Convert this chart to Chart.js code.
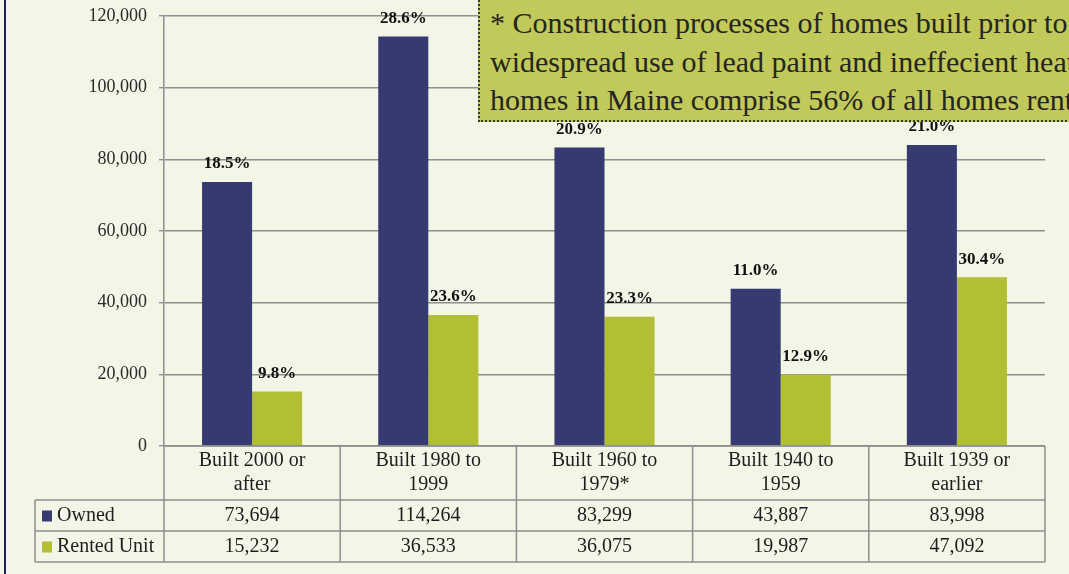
<!DOCTYPE html>
<html>
<head>
<meta charset="utf-8">
<script src="https://cdn.jsdelivr.net/npm/chart.js@4.4.0/dist/chart.umd.min.js"></script>
<style>
  html, body { margin: 0; padding: 0; }
  body { width: 1069px; height: 574px; overflow: hidden; background: #f3f5e7; position: relative; }
  #frame { position: absolute; left: 4px; top: 0; width: 2px; height: 574px; background: #1d2456; }
  canvas { position: absolute; left: 0; top: 0; }
  #note {
    position: absolute; left: 478px; top: -12px; width: 700px; height: 134px;
    box-sizing: border-box; border: 2px dotted #3a3a2a; background: #c1c95a;
  }
  #note-text {
    position: absolute; left: 490px; top: 4px;
    font-family: "Liberation Serif", "DejaVu Serif", serif; font-size: 30px; line-height: 38.5px;
    color: #262620; white-space: nowrap;
  }
</style>
</head>
<body>
<div id="frame"></div>
<canvas id="chart" width="1069" height="574"></canvas>
<div id="note"></div>
<div id="note-text">* Construction processes of homes built prior to<br>widespread use of lead paint and ineffecient heating<br>homes in Maine comprise 56% of all homes rented</div>
<script>
// --- datos ---
const categories = [
  ['Built 2000 or', 'after'],
  ['Built 1980 to', '1999'],
  ['Built 1960 to', '1979*'],
  ['Built 1940 to', '1959'],
  ['Built 1939 or', 'earlier']
];
const seriesNames = ['Owned', 'Rented Unit'];
const owned = [73694, 114264, 83299, 43887, 83998];
const rented = [15232, 36533, 36075, 19987, 47092];
const ownedPct = ['18.5%', '28.6%', '20.9%', '11.0%', '21.0%'];
const rentedPct = ['9.8%', '23.6%', '23.3%', '12.9%', '30.4%'];
const yMax = 120000;
const yStep = 20000;

const NAVY = '#353b71';
const OLIVE = '#b2be34';
const GRID = '#8e8e8e';
const SERIF = '"Liberation Serif", "DejaVu Serif", serif';

// etiquetas de porcentaje encima de cada barra
const pctLabels = {
  id: 'pctLabels',
  afterDatasetsDraw(chart) {
    const ctx = chart.ctx;
    const pcts = [ownedPct, rentedPct];
    ctx.save();
    ctx.font = 'bold 17px ' + SERIF;
    ctx.fillStyle = '#111';
    ctx.textAlign = 'center';
    ctx.textBaseline = 'middle';
    chart.data.datasets.forEach((ds, di) => {
      chart.getDatasetMeta(di).data.forEach((bar, i) => {
        ctx.fillText(pcts[di][i], bar.x, bar.y - 18);
      });
    });
    ctx.restore();
  }
};

// tabla de datos bajo el eje x
const dataTable = {
  id: 'dataTable',
  afterDraw(chart) {
    const ctx = chart.ctx;
    const area = chart.chartArea;
    const x = chart.scales.x;
    const top = area.bottom;
    const rowH = [54, 31, 31];
    const y1 = top + rowH[0];
    const y2 = y1 + rowH[1];
    const y3 = y2 + rowH[2];
    const legendLeft = 35;
    const step = (area.right - area.left) / categories.length;

    ctx.save();
    ctx.strokeStyle = GRID;
    ctx.lineWidth = 1.5;
    ctx.beginPath();
    // horizontales
    [y1, y2, y3].forEach(y => {
      ctx.moveTo(legendLeft, y);
      ctx.lineTo(area.right, y);
    });
    // verticales
    ctx.moveTo(legendLeft, y1);
    ctx.lineTo(legendLeft, y3);
    for (let i = 0; i <= categories.length; i++) {
      const vx = area.left + step * i;
      ctx.moveTo(vx, top);
      ctx.lineTo(vx, y3);
    }
    ctx.moveTo(area.left, top);
    ctx.lineTo(area.right, top);
    ctx.stroke();

    ctx.fillStyle = '#1e1e1e';
    ctx.font = '20px ' + SERIF;
    ctx.textAlign = 'center';
    ctx.textBaseline = 'middle';
    categories.forEach((lines, i) => {
      const cx = x.getPixelForValue(i);
      ctx.fillText(lines[0], cx, top + 15);
      ctx.fillText(lines[1], cx, top + 39);
      ctx.fillText(owned[i].toLocaleString('en-US'), cx, y1 + rowH[1] / 2);
      ctx.fillText(rented[i].toLocaleString('en-US'), cx, y2 + rowH[2] / 2);
    });

    // leyenda
    const colors = [NAVY, OLIVE];
    ctx.textAlign = 'left';
    seriesNames.forEach((name, i) => {
      const cy = y1 + rowH[1] * i + rowH[1] / 2;
      ctx.fillStyle = colors[i];
      ctx.fillRect(42, cy - 5, 10, 11);
      ctx.fillStyle = '#1e1e1e';
      ctx.fillText(name, 57, cy);
    });
    ctx.restore();
  }
};

new Chart(document.getElementById('chart'), {
  type: 'bar',
  data: {
    labels: categories,
    datasets: [
      { label: seriesNames[0], data: owned, backgroundColor: NAVY },
      { label: seriesNames[1], data: rented, backgroundColor: OLIVE }
    ]
  },
  options: {
    responsive: false,
    animation: false,
    devicePixelRatio: 1,
    layout: { padding: { top: 16, right: 24, bottom: 128, left: 0 } },
    datasets: { bar: { categoryPercentage: 0.568, barPercentage: 1 } },
    plugins: { legend: { display: false }, tooltip: { enabled: false } },
    scales: {
      x: { display: false },
      y: {
        min: 0,
        max: yMax,
        afterFit: s => {
          s.width = 164;
          s.paddingTop = 0;
          s.paddingBottom = 0;
        },
        ticks: {
          stepSize: yStep,
          padding: 12,
          color: '#2a2a2a',
          font: { family: SERIF, size: 18 },
          callback: v => v.toLocaleString('en-US')
        },
        grid: { color: GRID, lineWidth: 1.4, tickLength: 5 },
        border: { color: GRID, width: 1.5 }
      }
    }
  },
  plugins: [pctLabels, dataTable]
});
</script>
</body>
</html>
